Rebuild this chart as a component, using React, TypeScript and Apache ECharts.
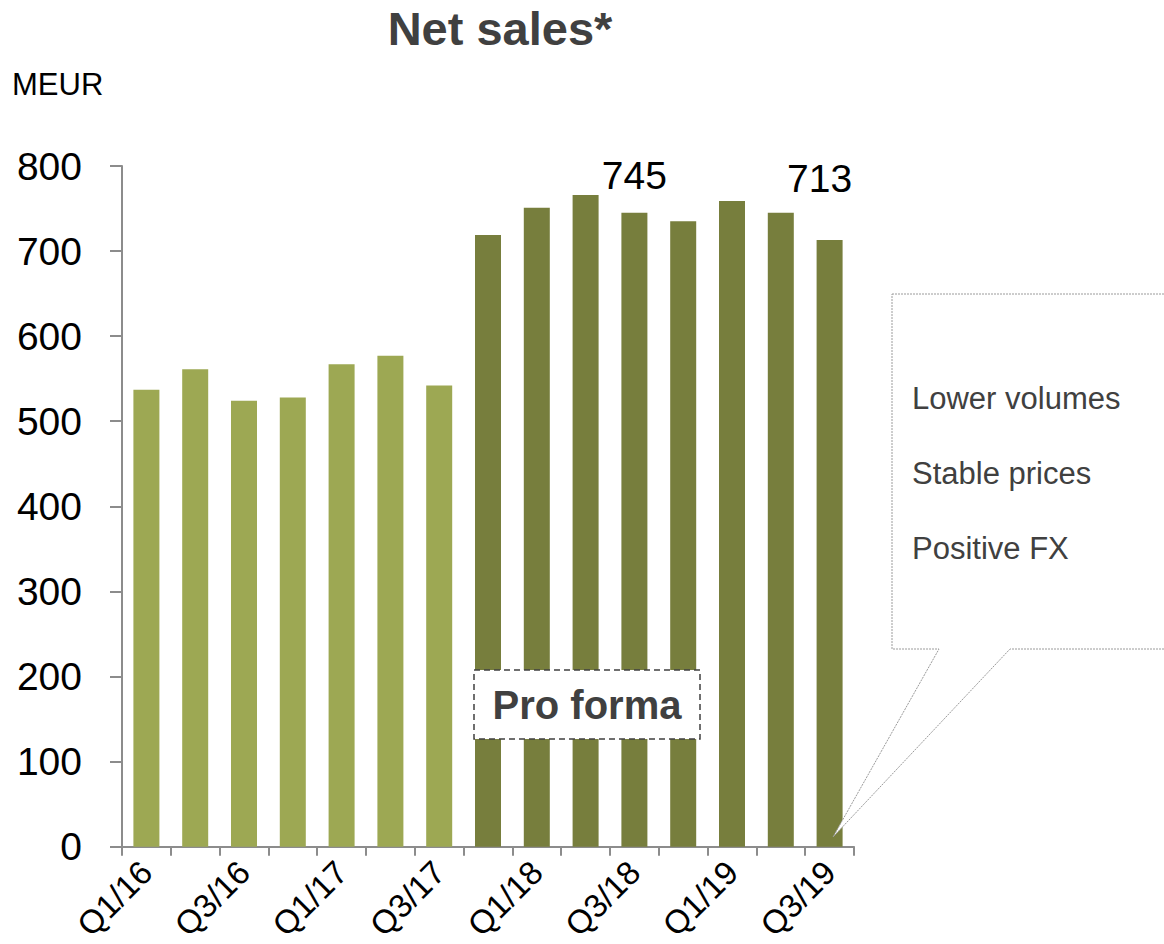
import React, { useEffect, useRef } from "react";
import * as echarts from "echarts";

const categories = [
  "Q1/16", "Q2/16", "Q3/16", "Q4/16",
  "Q1/17", "Q2/17", "Q3/17", "Q4/17",
  "Q1/18", "Q2/18", "Q3/18", "Q4/18",
  "Q1/19", "Q2/19", "Q3/19",
];
const netSales = [537, 561, 524, 528, 567, 577, 542, 719, 751, 766, 745, 735, 759, 745, 713];
// index from which the pro forma (dark) colour starts
const proFormaStart = 7;
const labelledIndices = [10, 14];
const yTicks = [0, 100, 200, 300, 400, 500, 600, 700, 800];
const calloutLines = ["Lower volumes", "Stable prices", "Positive FX"];

const LIGHT = "#9DA853";
const DARK = "#777E3D";
const AXIS = "#8C8C8C";
const TEXT_DARK = "#404040";
const FONT = "Liberation Sans, Arial, sans-serif";

export default function App() {
  const ref = useRef<HTMLDivElement>(null);
  useEffect(() => {
    if (!ref.current) return;
    const chart = echarts.init(ref.current, null, { renderer: "svg" });
    const data = netSales.map((v, i) => {
      const item: any = {
        value: v,
        itemStyle: { color: i >= proFormaStart ? DARK : LIGHT },
      };
      if (labelledIndices.includes(i)) {
        item.label = {
          show: true,
          position: "top",
          distance: 18,
          fontSize: 39,
          color: "#000",
          fontFamily: FONT,
          offset: i === categories.length - 1 ? [-10, -24] : [0, 0],
        };
      }
      return item;
    });
    chart.setOption({
      animation: false,
      backgroundColor: "#fff",
      grid: { left: 122, right: 310, top: 166, bottom: 96, containLabel: false },
      xAxis: {
        type: "category",
        data: categories,
        boundaryGap: true,
        axisLine: { show: true, lineStyle: { color: AXIS, width: 2 } },
        axisTick: { show: true, interval: 0, length: 9, lineStyle: { color: AXIS, width: 2 } },
        axisLabel: {
          interval: 1,
          rotate: 45,
          margin: 20,
          fontSize: 33,
          color: "#000",
          fontFamily: FONT,
        },
      },
      yAxis: {
        type: "value",
        min: yTicks[0],
        max: yTicks[yTicks.length - 1],
        interval: 100,
        splitLine: { show: false },
        axisLine: { show: true, lineStyle: { color: AXIS, width: 2 } },
        axisTick: { show: true, length: 12, lineStyle: { color: AXIS, width: 2 } },
        axisLabel: {
          margin: 40,
          fontSize: 39,
          color: "#000",
          fontFamily: FONT,
        },
      },
      series: [
        {
          type: "bar",
          data,
          barWidth: 26,
        },
      ],
      graphic: [
        {
          type: "text",
          z: 100,
          x: 500,
          y: 28,
          style: {
            text: "Net sales*",
            fontSize: 47,
            fontWeight: "bold",
            fill: TEXT_DARK,
            align: "center",
            verticalAlign: "middle",
            fontFamily: FONT,
          },
        },
        {
          type: "text",
          z: 100,
          x: 12,
          y: 84,
          style: {
            text: "MEUR",
            fontSize: 31,
            fill: "#000",
            align: "left",
            verticalAlign: "middle",
            fontFamily: FONT,
          },
        },
        {
          type: "rect",
          z: 100,
          shape: { x: 474, y: 670, width: 226, height: 69 },
          style: { fill: "#fff", stroke: TEXT_DARK, lineWidth: 1.5, lineDash: [6, 4] },
        },
        {
          type: "text",
          z: 101,
          x: 587,
          y: 705,
          style: {
            text: "Pro forma",
            fontSize: 40,
            fontWeight: "bold",
            fill: TEXT_DARK,
            align: "center",
            verticalAlign: "middle",
            fontFamily: FONT,
          },
        },
        {
          type: "polygon",
          z: 100,
          shape: {
            points: [
              [892, 294],
              [1170, 294],
              [1170, 649],
              [1010, 649],
              [833, 837],
              [939, 649],
              [892, 649],
            ],
          },
          style: { fill: "#fff", stroke: "#9A9A9A", lineWidth: 1, lineDash: [2, 1] },
        },
        ...calloutLines.map((t, i) => ({
          type: "text",
          z: 101,
          x: 912,
          y: 398 + i * 75,
          style: {
            text: t,
            fontSize: 31,
            fill: TEXT_DARK,
            align: "left",
            verticalAlign: "middle",
            fontFamily: FONT,
          },
        })),
      ],
    });
    return () => chart.dispose();
  }, []);
  return (
    <div
      ref={ref}
      style={{ position: "fixed", left: 0, top: 0, width: 1164, height: 944 }}
    />
  );
}
